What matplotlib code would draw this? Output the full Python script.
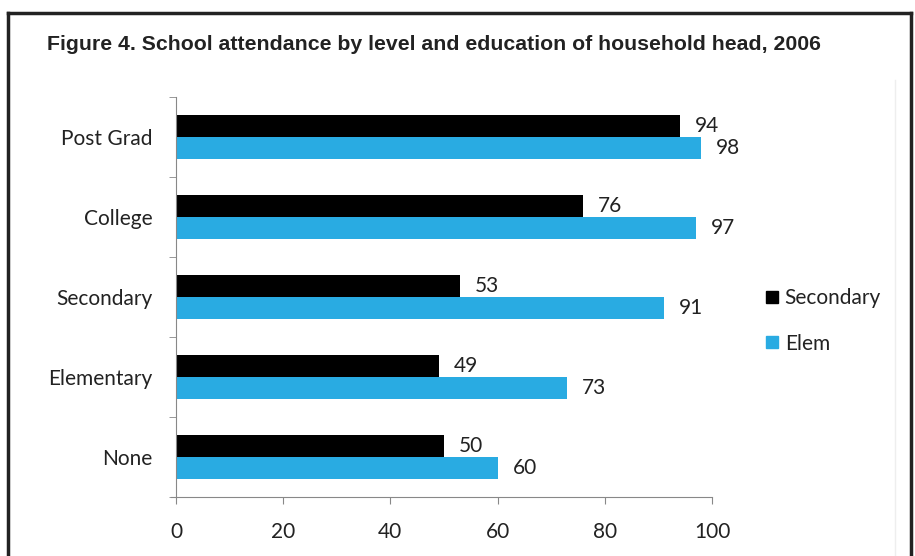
import matplotlib.pyplot as plt
from matplotlib.lines import Line2D

categories = ['None', 'Elementary', 'Secondary', 'College', 'Post Grad']
secondary = [50, 49, 53, 76, 94]
elem = [60, 73, 91, 97, 98]
xticks = [0, 20, 40, 60, 80, 100]

plt.rcParams['font.family'] = ['Lato', 'DejaVu Sans']

fig = plt.figure(figsize=(9.15, 5.56), dpi=100)
ax = fig.add_axes([176 / 915, 1 - 497 / 556, (712 - 176) / 915, 400 / 556])

h = 0.28
y = list(range(len(categories)))
b1 = ax.barh([v + h / 2 for v in y], secondary, height=h, color='black')
b2 = ax.barh([v - h / 2 for v in y], elem, height=h, color='#29abe2')
for bars, vals in ((b1, secondary), (b2, elem)):
    for r, v in zip(bars, vals):
        ax.text(v + 2.8, r.get_y() + r.get_height() / 2, str(v), va='center',
                ha='left', fontsize=15, color='#222')

ax.set_xlim(0, 100)
ax.set_ylim(-0.5, 4.5)
ax.set_xticks(xticks)
ax.set_yticks(y)
ax.set_yticklabels(categories)
ax.set_yticks([v - 0.5 for v in range(6)], minor=True)
ax.tick_params(axis='y', which='major', length=0, pad=17, labelsize=15, labelcolor='#222')
ax.tick_params(axis='y', which='minor', length=5, color='#888')
ax.tick_params(axis='x', length=5, color='#888', pad=13, labelsize=15, labelcolor='#222',
               direction='out')
for s in ('top', 'right'):
    ax.spines[s].set_visible(False)
for s in ('left', 'bottom'):
    ax.spines[s].set_color('#888')
ax.spines['bottom'].set_bounds(-1, 100)

handles = [Line2D([], [], marker='s', ls='', color='black', markersize=9),
           Line2D([], [], marker='s', ls='', color='#29abe2', markersize=9)]
fig.legend(handles, ['Secondary', 'Elem'], loc='center left',
           bbox_to_anchor=(743 / 915, 1 - 321 / 556), frameon=False,
           fontsize=15, handletextpad=0.1, labelspacing=1.2, handlelength=1.0,
           labelcolor='#222')

fig.text(47 / 915, 1 - 45 / 556,
         'Figure 4. School attendance by level and education of household head, 2006',
         fontsize=15.3, fontweight='bold', family='Liberation Sans', va='center',
         color='#222')

# frame around the figure
fig.add_artist(Line2D([8 / 915, 8 / 915], [0, 1 - 13 / 556], color='#222', lw=2.5))
fig.add_artist(Line2D([8 / 915, 911 / 915], [1 - 13 / 556, 1 - 13 / 556], color='#222', lw=2.5))
fig.add_artist(Line2D([911 / 915, 911 / 915], [0, 1 - 13 / 556], color='#222', lw=2.5))
fig.add_artist(Line2D([895 / 915, 895 / 915], [0, 1 - 80 / 556], color='#eee', lw=1))

fig.savefig('out.png', dpi=100)
